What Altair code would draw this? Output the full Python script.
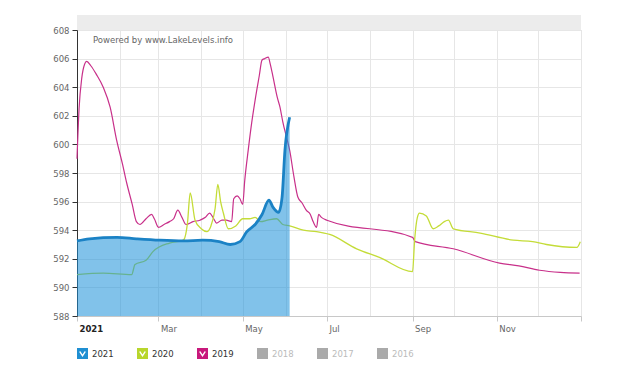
import altair as alt
import pandas as pd

# ---------------- data (day of year -> lake level, ft) ----------------
years = ["2021", "2020", "2019", "2018", "2017", "2016"]
legend_colors = ["#1f8fd2", "#b8d62c", "#c8197c", "#aaaaaa", "#aaaaaa", "#aaaaaa"]

d2021_days = [0, 9, 29, 43, 60, 77, 91, 103, 111, 118, 123, 129, 134, 139, 142,
              146, 148.5, 150.6, 154]
d2021_vals = [593.25, 593.4, 593.5, 593.4, 593.3, 593.25, 593.3, 593.2, 593.0,
              593.2, 593.9, 594.4, 595.1, 596.1, 595.6, 595.25, 596.3, 599.6, 601.9]

d2020_days = [0, 19, 39.6, 42, 50, 55, 67, 77, 80, 82, 85.5, 90, 94, 97, 100, 102,
              104, 106, 109.6, 115, 120, 125, 129, 133, 138, 144.6, 149, 154, 164,
              173.5, 183, 202.5, 219, 243, 244.5, 246.5, 248, 253, 258, 262, 266,
              269, 272.5, 292, 316, 330, 340, 362, 364.5]
d2020_vals = [590.9, 591.0, 590.9, 591.6, 591.9, 592.5, 593.1, 593.3, 594.5, 596.6,
              594.7, 594.1, 593.9, 594.3, 595.5, 597.2, 596.0, 595.2, 594.1, 594.3,
              594.8, 594.8, 594.9, 594.6, 594.7, 594.8, 594.4, 594.3, 594.0, 593.9,
              593.7, 592.7, 592.1, 591.1, 593.3, 594.9, 595.2, 595.0, 594.1, 594.3,
              594.6, 594.7, 594.1, 593.8, 593.3, 593.2, 593.0, 592.8, 593.2]

d2019_days = [0, 1.5, 3.4, 5.5, 7, 10, 14, 19, 24, 28.7, 33, 36, 40, 43, 45.6, 50,
              54, 56, 59, 63, 67, 70, 73, 76, 79, 84, 89, 93, 96, 99, 101, 105, 108,
              112, 113.5, 116, 118, 120, 121.5, 124, 126.5, 129, 132, 134, 136,
              138.5, 140, 142, 145, 147, 149, 152, 154, 157, 160, 163, 166, 169,
              171, 173.5, 175, 177, 181, 243, 245, 272.5, 306, 320, 335, 350, 364]
d2019_vals = [599.0, 602.5, 604.6, 605.6, 605.8, 605.5, 604.9, 604.0, 602.6, 600.3,
              598.6, 597.3, 595.8, 594.6, 594.4, 594.8, 595.1, 594.8, 594.2, 594.4,
              594.6, 594.8, 595.4, 594.9, 594.4, 594.6, 594.7, 594.9, 595.2, 594.8,
              594.5, 594.7, 594.7, 594.6, 596.2, 596.4, 596.2, 595.8, 597.5, 599.6,
              601.5, 603.1, 604.8, 605.9, 606.0, 606.1, 605.6, 604.7, 603.3, 602.6,
              601.6, 600.4, 599.6, 597.8, 596.3, 595.9, 595.4, 595.1, 594.6, 594.2,
              595.1, 594.9, 594.7, 593.5, 593.2, 592.7, 591.7, 591.5, 591.2, 591.05,
              591.0]

y_ticks = list(range(588, 609, 2))
watermark = "Powered by www.LakeLevels.info"

# ---------------- build tables ----------------
base_date = pd.Timestamp("2021-01-01")


def frame(days, vals, year):
    return pd.DataFrame({
        "date": [base_date + pd.Timedelta(days=d) for d in days],
        "level": vals,
        "year": year,
    })


df21 = frame(d2021_days, d2021_vals, "2021")
df20 = frame(d2020_days, d2020_vals, "2020")
df19 = frame(d2019_days, d2019_vals, "2019")
legend_df = pd.DataFrame({"year": years})

FONT = "DejaVu Sans"

month_values = [alt.DateTime(year=2021, month=m, date=1) for m in range(1, 13)]
month_values.append(alt.DateTime(year=2022, month=1, date=1))

x_scale = alt.Scale(domain=[alt.DateTime(year=2021, month=1, date=1),
                            alt.DateTime(year=2022, month=1, date=1)])
y_scale = alt.Scale(domain=[588, 608], zero=False, nice=False)

x_axis = alt.Axis(
    values=month_values,
    title=None,
    grid=True,
    gridColor="#e6e6e6",
    domainColor="#c8c8c8",
    tickColor="#c8c8c8",
    tickSize=5,
    tickOpacity={"condition": {"test": "month(datum.value) % 2 == 1", "value": 0}, "value": 1},
    labelExpr="year(datum.value) == 2022 ? '' : (month(datum.value) == 0 ? '2021' : "
              "(month(datum.value) % 2 == 0 ? timeFormat(datum.value, '%b') : ''))",
    labelFontWeight={"condition": {"test": "month(datum.value) == 0", "value": "bold"},
                     "value": "normal"},
    labelColor={"condition": {"test": "month(datum.value) == 0", "value": "#222222"},
                "value": "#666666"},
    labelAlign="left",
    labelOffset=2,
    labelPadding=3,
    labelFontSize=8.5,
    labelFont=FONT,
    labelOverlap=False,
    labelBound=False,
)

y_axis = alt.Axis(
    values=y_ticks,
    title=None,
    grid=True,
    gridColor="#e6e6e6",
    domainColor="#333333",
    tickColor="#333333",
    tickSize=5,
    labelPadding=3,
    labelColor="#666666",
    labelFontSize=8.5,
    labelFont=FONT,
)

X = alt.X("date:T", scale=x_scale, axis=x_axis)
Y = alt.Y("level:Q", scale=y_scale, axis=y_axis)

line19 = alt.Chart(df19).mark_line(color="#c8308a", strokeWidth=1.2,
                                   interpolate="monotone").encode(x=X, y=Y)
line20 = alt.Chart(df20).mark_line(color="#c4dc38", strokeWidth=1.3,
                                   interpolate="monotone").encode(x=X, y=Y)
area21 = alt.Chart(df21).mark_area(color="#1a8fd8", opacity=0.55,
                                   interpolate="monotone").encode(
    x=X, y=Y, y2=alt.datum(588))
line21 = alt.Chart(df21).mark_line(color="#1b82c5", strokeWidth=2.8,
                                   interpolate="monotone").encode(x=X, y=Y)

band = alt.Chart(pd.DataFrame({"k": [0]})).mark_rect(color="#ececec").encode(
    x=alt.value(0), x2=alt.value(504), y=alt.value(-15), y2=alt.value(0))

text = alt.Chart(pd.DataFrame({"t": [watermark]})).mark_text(
    align="left", baseline="alphabetic", color="#666666", fontSize=8.5, font=FONT
).encode(x=alt.value(16), y=alt.value(13), text="t:N")

check_path = ("M-1,-1L1,-1L1,1L-1,1Z "
              "M-0.62,-0.32L0,0.62L0.62,-0.32L0.38,-0.42L0,0.2L-0.38,-0.42Z")

legend_layer = alt.Chart(legend_df).mark_square(opacity=0).encode(
    color=alt.Color(
        "year:N",
        scale=alt.Scale(domain=years, range=legend_colors),
        legend=alt.Legend(
            title=None,
            orient="none",
            legendX=0,
            legendY=318,
            direction="horizontal",
            columns=6,
            columnPadding=23,
            padding=0,
            symbolSize=121,
            symbolStrokeWidth=0,
            symbolOpacity=1,
            symbolType={"expr": "indexof(['2021','2020','2019'], datum.value) >= 0 ? '"
                                + check_path + "' : 'square'"},
            labelColor={"expr": "indexof(['2021','2020','2019'], datum.value) >= 0 ? '#333333' : '#bbbbbb'"},
            labelFont=FONT,
            labelFontSize=8.5,
            labelOffset=4,
        ),
    )
)

chart = alt.layer(
    line19, line20, area21, line21, band, text, legend_layer
).properties(
    width=504,
    height=286,
    padding={"left": 69, "top": 22, "right": 51, "bottom": 52},
    autosize="none",
).configure_view(stroke=None).configure(font=FONT)

chart.save("out.html", embed_options={"renderer": "svg", "actions": False})
